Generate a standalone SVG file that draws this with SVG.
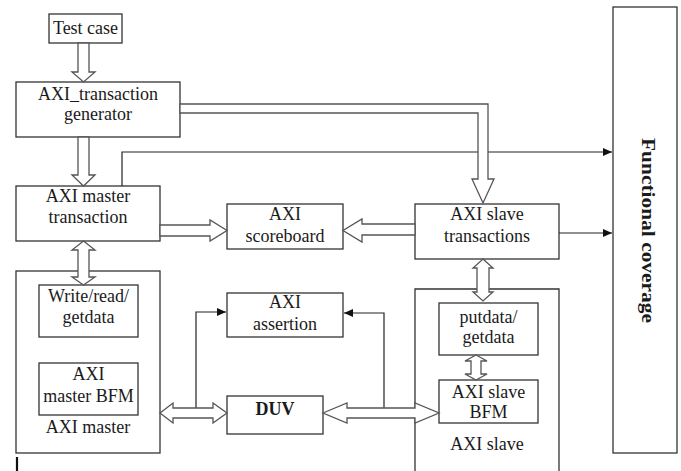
<svg xmlns="http://www.w3.org/2000/svg" width="681" height="471" viewBox="0 0 681 471">
<style>
.box{fill:#fff;stroke:#333;stroke-width:1.3}
.hol{fill:#fff;stroke:#555;stroke-width:1.3;stroke-linejoin:miter}
.ln{fill:none;stroke:#222;stroke-width:1.2}
text{font-family:"Liberation Serif","Times New Roman",serif;font-size:18px;fill:#1a1a1a;text-anchor:middle}
.b{font-weight:bold}
</style>
<defs>
<marker id="ah" markerWidth="9" markerHeight="8" refX="9" refY="4" orient="auto" markerUnits="userSpaceOnUse">
<path d="M0,0 L9,4 L0,8 Z" fill="#111"/>
</marker>
</defs>
<rect width="681" height="471" fill="#fff"/>

<g id="test-case"><rect class="box" x="49" y="14" width="73" height="29"/><text x="85.5" y="34">Test case</text></g>
<g id="generator"><rect class="box" x="16" y="82" width="164" height="55"/><text x="98" y="100">AXI_transaction</text><text x="98" y="120">generator</text></g>
<g id="master-transaction"><rect class="box" x="16" y="186" width="144" height="55"/><text x="88" y="202">AXI master</text><text x="88" y="223">transaction</text></g>
<g id="scoreboard"><rect class="box" x="227" y="204" width="116" height="45"/><text x="285" y="220">AXI</text><text x="285" y="242">scoreboard</text></g>
<g id="slave-transactions"><rect class="box" x="415" y="204" width="144" height="55"/><text x="487" y="220">AXI slave</text><text x="487" y="242">transactions</text></g>
<g id="functional-coverage"><rect class="box" x="613" y="7" width="64" height="446"/><text class="b" transform="translate(648,230.5) rotate(90)" x="0" y="6" font-size="19" textLength="185" lengthAdjust="spacingAndGlyphs">Functional coverage</text></g>
<g id="axi-master"><rect class="box" x="16" y="271" width="144" height="182"/><text x="88" y="433">AXI master</text></g>
<g id="write-read"><rect class="box" x="39" y="285" width="99" height="52"/><text x="88.5" y="302">Write/read/</text><text x="88.5" y="323">getdata</text></g>
<g id="master-bfm"><rect class="box" x="39" y="363" width="99" height="52"/><text x="88.5" y="380">AXI</text><text x="88.5" y="402">master BFM</text></g>
<g id="assertion"><rect class="box" x="227" y="293" width="116" height="44"/><text x="285" y="308">AXI</text><text x="285" y="330">assertion</text></g>
<g id="duv"><rect class="box" x="227" y="396" width="96" height="38"/><text class="b" x="275" y="415" font-size="19">DUV</text></g>
<g id="axi-slave"><path class="box" d="M415,472 L415,289 L559,289 L559,472"/><text x="487" y="450">AXI slave</text></g>
<g id="putdata"><rect class="box" x="439" y="303" width="99" height="52"/><text x="488.5" y="323">putdata/</text><text x="488.5" y="343">getdata</text></g>
<g id="slave-bfm"><rect class="box" x="439" y="380" width="99" height="43"/><text x="488.5" y="398">AXI slave</text><text x="488.5" y="418">BFM</text></g>

<g id="connectors">
<path class="ln" d="M122,186 L122,152 L612,152" marker-end="url(#ah)"/>
<path class="ln" d="M559,233 L612,233" marker-end="url(#ah)"/>
<path class="ln" d="M196,408 L196,312 L226,312" marker-end="url(#ah)"/>
<path class="ln" d="M384,408 L384,313 L344,313" marker-end="url(#ah)"/>
<polygon class="hol" points="78,43 89,43 89,72 95,72 83.5,82 72,72 78,72"/>
<polygon class="hol" points="78,137 89,137 89,175 95,175 83.5,186 72,175 78,175"/>
<polygon class="hol" points="83.5,241 95,250 89,250 89,277 95,277 83.5,285 72,277 78,277 78,250 72,250"/>
<polygon class="hol" points="160,225 210,225 210,220 227,230.5 210,241 210,236 160,236"/>
<polygon class="hol" points="415,224 362,224 362,219 343,230.5 362,242 362,235 415,235"/>
<polygon class="hol" points="180,104 488,104 488,179 494,179 483,203 472,179 478,179 478,113 180,113"/>
<polygon class="hol" points="483,259 493,268 489,268 489,292 493,292 483,301 473,292 477,292 477,268 473,268"/>
<polygon class="hol" points="476,355 487,361 481,361 481,374 487,374 476,380 465,374 471,374 471,361 465,361"/>
<polygon class="hol" points="160,413 173,403 173,408 213,408 213,403 227,413 213,423 213,418 173,418 173,423"/>
<polygon class="hol" points="323,413 347,403 347,408 415,408 415,403 439,413 415,423 415,418 347,418 347,423"/>
<line x1="17" y1="457" x2="17" y2="471" stroke="#111" stroke-width="2.2"/>
</g>
</svg>
